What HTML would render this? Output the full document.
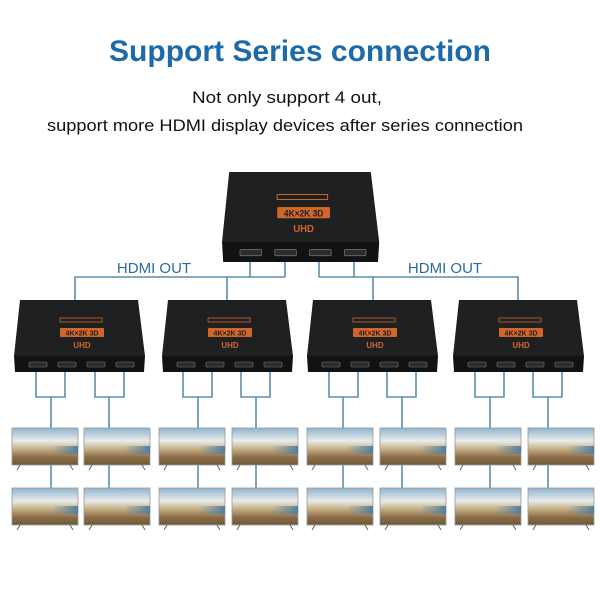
<!DOCTYPE html>
<html><head><meta charset="utf-8"><style>
html,body{margin:0;padding:0;background:#fff;}
svg{display:block;}
</style></head><body>
<svg width="600" height="609" viewBox="0 0 600 609" xmlns="http://www.w3.org/2000/svg" font-family="Liberation Sans, sans-serif">
<defs>
<linearGradient id="scr" x1="0" y1="0" x2="0" y2="1">
<stop offset="0" stop-color="#8fb3cf"/><stop offset="0.35" stop-color="#e9ecea"/><stop offset="0.55" stop-color="#c9b48a"/><stop offset="0.8" stop-color="#8a6a45"/><stop offset="1" stop-color="#6b5a3a"/>
</linearGradient>
<linearGradient id="sea" x1="0" y1="0" x2="1" y2="0">
<stop offset="0" stop-color="#5d88a8" stop-opacity="0"/><stop offset="1" stop-color="#4f7fa3"/>
</linearGradient>
<g id="mon">
<rect x="0" y="0" width="66" height="37" fill="url(#scr)" stroke="#999" stroke-width="0.8"/>
<rect x="40" y="18" width="26" height="8" fill="url(#sea)"/>
<line x1="8" y1="37" x2="5" y2="42" stroke="#666" stroke-width="1"/>
<line x1="58" y1="37" x2="61" y2="42" stroke="#666" stroke-width="1"/>
</g>
<g id="dev">
<polygon points="6,0 124,0 131,56 0,56" fill="#1e2022"/>
<polygon points="0,56 131,56 130,72 1,72" fill="#111213"/>
<rect x="46" y="18" width="42" height="4" fill="none" stroke="#d0662a" stroke-width="0.8"/>
<rect x="46" y="28" width="44" height="9" rx="1" fill="#d0662a"/>
<text x="68" y="35.5" font-size="7" font-weight="bold" fill="#1e2022" text-anchor="middle">4K×2K 3D</text>
<text x="68" y="48" font-size="8" font-weight="bold" fill="#d0662a" text-anchor="middle">UHD</text>
<rect x="15" y="62" width="18" height="5" rx="1" fill="#2a2c2e" stroke="#777" stroke-width="0.6"/>
<rect x="44" y="62" width="18" height="5" rx="1" fill="#2a2c2e" stroke="#777" stroke-width="0.6"/>
<rect x="73" y="62" width="18" height="5" rx="1" fill="#2a2c2e" stroke="#777" stroke-width="0.6"/>
<rect x="102" y="62" width="18" height="5" rx="1" fill="#2a2c2e" stroke="#777" stroke-width="0.6"/>
</g>
</defs>

<text x="300" y="61" font-size="30" font-weight="bold" fill="#1d6aa8" text-anchor="middle" textLength="382" lengthAdjust="spacingAndGlyphs">Support Series connection</text>
<text x="287" y="103" font-size="17" fill="#111" text-anchor="middle" textLength="190" lengthAdjust="spacingAndGlyphs">Not only support 4 out,</text>
<text x="285" y="131" font-size="17" fill="#111" text-anchor="middle" textLength="476" lengthAdjust="spacingAndGlyphs">support more HDMI display devices after series connection</text>

<g stroke="#5b8fae" stroke-width="1.6" fill="none">
<polyline points="250,262 250,277"/><polyline points="285,262 285,277"/>
<polyline points="75,300 75,277 285,277"/><polyline points="227,300 227,277"/>
<polyline points="319,262 319,277"/><polyline points="354,262 354,277"/>
<polyline points="319,277 518,277 518,300"/><polyline points="373,277 373,300"/>
</g>
<text x="154" y="273" font-size="15" fill="#2a6b9c" text-anchor="middle">HDMI OUT</text>
<text x="445" y="273" font-size="15" fill="#2a6b9c" text-anchor="middle">HDMI OUT</text>

<!-- top device -->
<g transform="translate(222,172) scale(1.2,1.25)"><use href="#dev"/></g>

<use href="#dev" x="14" y="300"/>
<use href="#dev" x="162" y="300"/>
<use href="#dev" x="307" y="300"/>
<use href="#dev" x="453" y="300"/>

<g stroke="#5b8fae" stroke-width="1.6" fill="none">
<polyline points="36,372 36,397 65,397 65,372"/><polyline points="51,397 51,488"/>
<polyline points="95,372 95,397 124,397 124,372"/><polyline points="109,397 109,488"/>
<polyline points="183,372 183,397 212,397 212,372"/><polyline points="198,397 198,488"/>
<polyline points="241,372 241,397 270,397 270,372"/><polyline points="256,397 256,488"/>
<polyline points="329,372 329,397 358,397 358,372"/><polyline points="343,397 343,488"/>
<polyline points="387,372 387,397 416,397 416,372"/><polyline points="402,397 402,488"/>
<polyline points="475,372 475,397 504,397 504,372"/><polyline points="490,397 490,488"/>
<polyline points="533,372 533,397 562,397 562,372"/><polyline points="548,397 548,488"/>
</g>

<use href="#mon" x="12" y="428"/><use href="#mon" x="84" y="428"/>
<use href="#mon" x="159" y="428"/><use href="#mon" x="232" y="428"/>
<use href="#mon" x="307" y="428"/><use href="#mon" x="380" y="428"/>
<use href="#mon" x="455" y="428"/><use href="#mon" x="528" y="428"/>
<use href="#mon" x="12" y="488"/><use href="#mon" x="84" y="488"/>
<use href="#mon" x="159" y="488"/><use href="#mon" x="232" y="488"/>
<use href="#mon" x="307" y="488"/><use href="#mon" x="380" y="488"/>
<use href="#mon" x="455" y="488"/><use href="#mon" x="528" y="488"/>
</svg>
</body></html>
